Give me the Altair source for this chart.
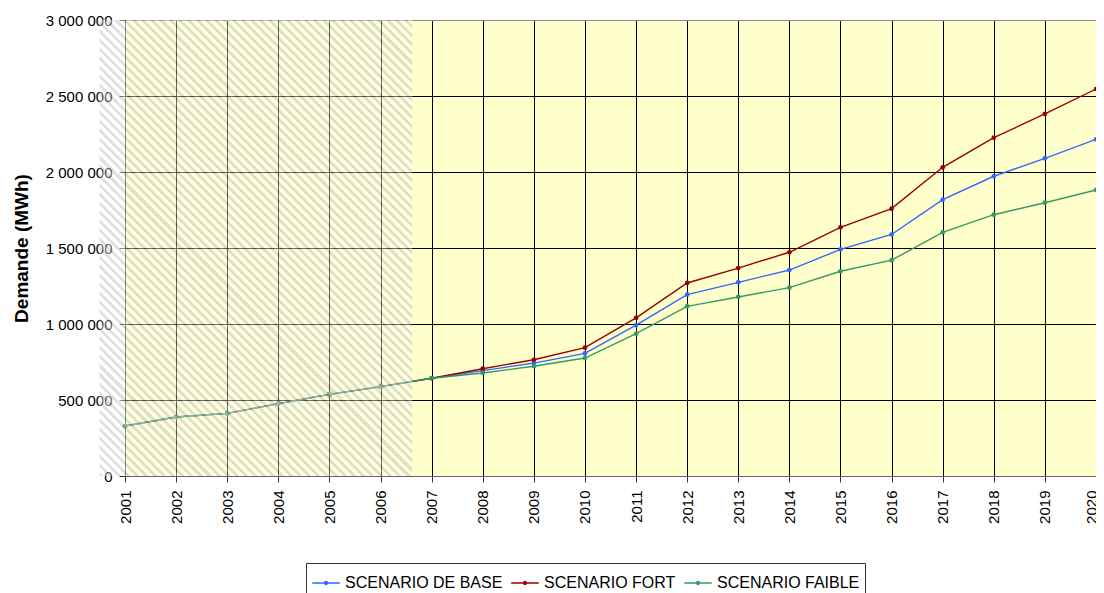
import altair as alt
import pandas as pd

# ---------------- data ----------------
years = list(range(2001, 2021))
base = [329000, 388000, 412000, 476000, 537000, 588000, 643000, 693000, 743000, 807000,
        993000, 1193000, 1274000, 1355000, 1491000, 1589000, 1818000, 1972000, 2090000, 2215000]
fort = [329000, 388000, 412000, 476000, 537000, 588000, 643000, 706000, 765000, 844000,
        1040000, 1270000, 1368000, 1472000, 1636000, 1759000, 2031000, 2226000, 2382000, 2546000]
faible = [329000, 388000, 412000, 476000, 537000, 588000, 643000, 678000, 722000, 776000,
          936000, 1116000, 1178000, 1239000, 1347000, 1420000, 1603000, 1719000, 1798000, 1882000]
series_names = ["SCENARIO DE BASE", "SCENARIO FORT", "SCENARIO FAIBLE"]
series_colors = ["#3366FF", "#990000", "#339966"]
y_ticks = [0, 500000, 1000000, 1500000, 2000000, 2500000, 3000000]
history_start = [2000.5]
history_end = [2006.62]
y_min = [0]
y_max = [3000000]

rows = []
for name, vals in zip(series_names, [base, fort, faible]):
    for yr, v in zip(years, vals):
        rows.append({"annee": yr, "demande": v, "series": name})
df = pd.DataFrame(rows)
hist = pd.DataFrame({"start": history_start, "end": history_end, "y0": y_min, "y1": y_max})

FONT = "Liberation Sans"
W, H = 971, 456

# ---------------- hatch gradient (diagonal stripes) ----------------
rect_w = (history_end[0] - history_start[0]) * W / (years[-1] - years[0])
rect_h = H
period = 9.0
n_periods = int(round((rect_w + rect_h) / period))
k = (rect_w + rect_h) / (rect_w ** 2 + rect_h ** 2)
gx2 = k * rect_w
gy2 = 1 - k * rect_h
stops = []
for i in range(n_periods):
    a = i / n_periods
    b = (i + 0.45) / n_periods
    c = (i + 1) / n_periods
    stops += [alt.GradientStop(color="#b8b8b8", offset=a),
              alt.GradientStop(color="#b8b8b8", offset=b),
              alt.GradientStop(color="#ffffff", offset=b),
              alt.GradientStop(color="#ffffff", offset=c)]
hatch_fill = alt.LinearGradient(gradient="linear", stops=stops, x1=0, y1=1, x2=gx2, y2=gy2)

# ---------------- encodings ----------------
x_enc = alt.X("annee:Q",
              scale=alt.Scale(domain=[years[0], years[-1]], nice=False, zero=False),
              axis=alt.Axis(values=years, format="d", title=None, labelAngle=270,
                            labelFontSize=15, labelFont=FONT, labelColor="#000",
                            tickSize=6, labelPadding=8, tickColor="#333", domainColor="#666",
                            labelOffset={"condition": {"test": "datum.value === 2020", "value": -5},
                                         "value": 0},
                            gridColor={"condition": {"test": "datum.value === 2020", "value": "#8c8c8c"},
                                       "value": "#000000"},
                            labelOverlap=False))
y_enc = alt.Y("demande:Q",
              scale=alt.Scale(domain=[0, 3000000], nice=False),
              axis=alt.Axis(values=y_ticks, title="Demande (MWh)",
                            labelExpr="replace(replace(format(datum.value, ','), ',', ' '), ',', ' ')",
                            labelFontSize=15, labelFont=FONT, labelColor="#000",
                            tickSize=6, labelPadding=7, tickColor="#333", domainColor="#444",
                            titleFont=FONT, titleFontSize=19, titleFontWeight="bold",
                            titleColor="#000", titleX=-98, titleBaseline="alphabetic",
                            gridColor={"condition": {"test": "datum.value === 3000000", "value": "#8c8c8c"},
                                       "value": "#000000"}))
legend_symbol = "M-1,0L1,0M0.1,0A0.1,0.1,0,1,1,-0.1,0A0.1,0.1,0,1,1,0.1,0"
color_enc = alt.Color("series:N",
                      scale=alt.Scale(domain=series_names, range=series_colors),
                      legend=alt.Legend(title=None, orient="none", direction="horizontal",
                                        legendX=181, legendY=543, padding=5,
                                        strokeColor="#333", fillColor="#ffffff",
                                        labelFont=FONT, labelFontSize=16, labelColor="#000",
                                        symbolType=legend_symbol, symbolSize=760,
                                        symbolStrokeWidth=1.5, labelOffset=4, columnPadding=5))

layers = []
for name in series_names:
    layers.append(
        alt.Chart(df).transform_filter(alt.datum.series == name)
        .mark_line(strokeWidth=1.4, point=alt.OverlayMarkDef(filled=True, size=22))
        .encode(x=x_enc, y=y_enc, color=color_enc)
    )

hatch = alt.Chart(hist).mark_rect(fill=hatch_fill, fillOpacity=0.42).encode(
    x=alt.X("start:Q"), x2="end", y=alt.Y("y0:Q"), y2="y1"
)

chart = alt.layer(*layers, hatch).properties(
    width=W, height=H,
    autosize=alt.AutoSizeParams(type="none"),
    padding={"left": 117, "top": 12, "right": 0, "bottom": 117},
).configure_view(fill="#FFFFCC", stroke="#8c8c8c", strokeWidth=1
).configure_axis(grid=True, gridWidth=1)

chart.save("out.html", embed_options={"renderer": "svg", "actions": False})
